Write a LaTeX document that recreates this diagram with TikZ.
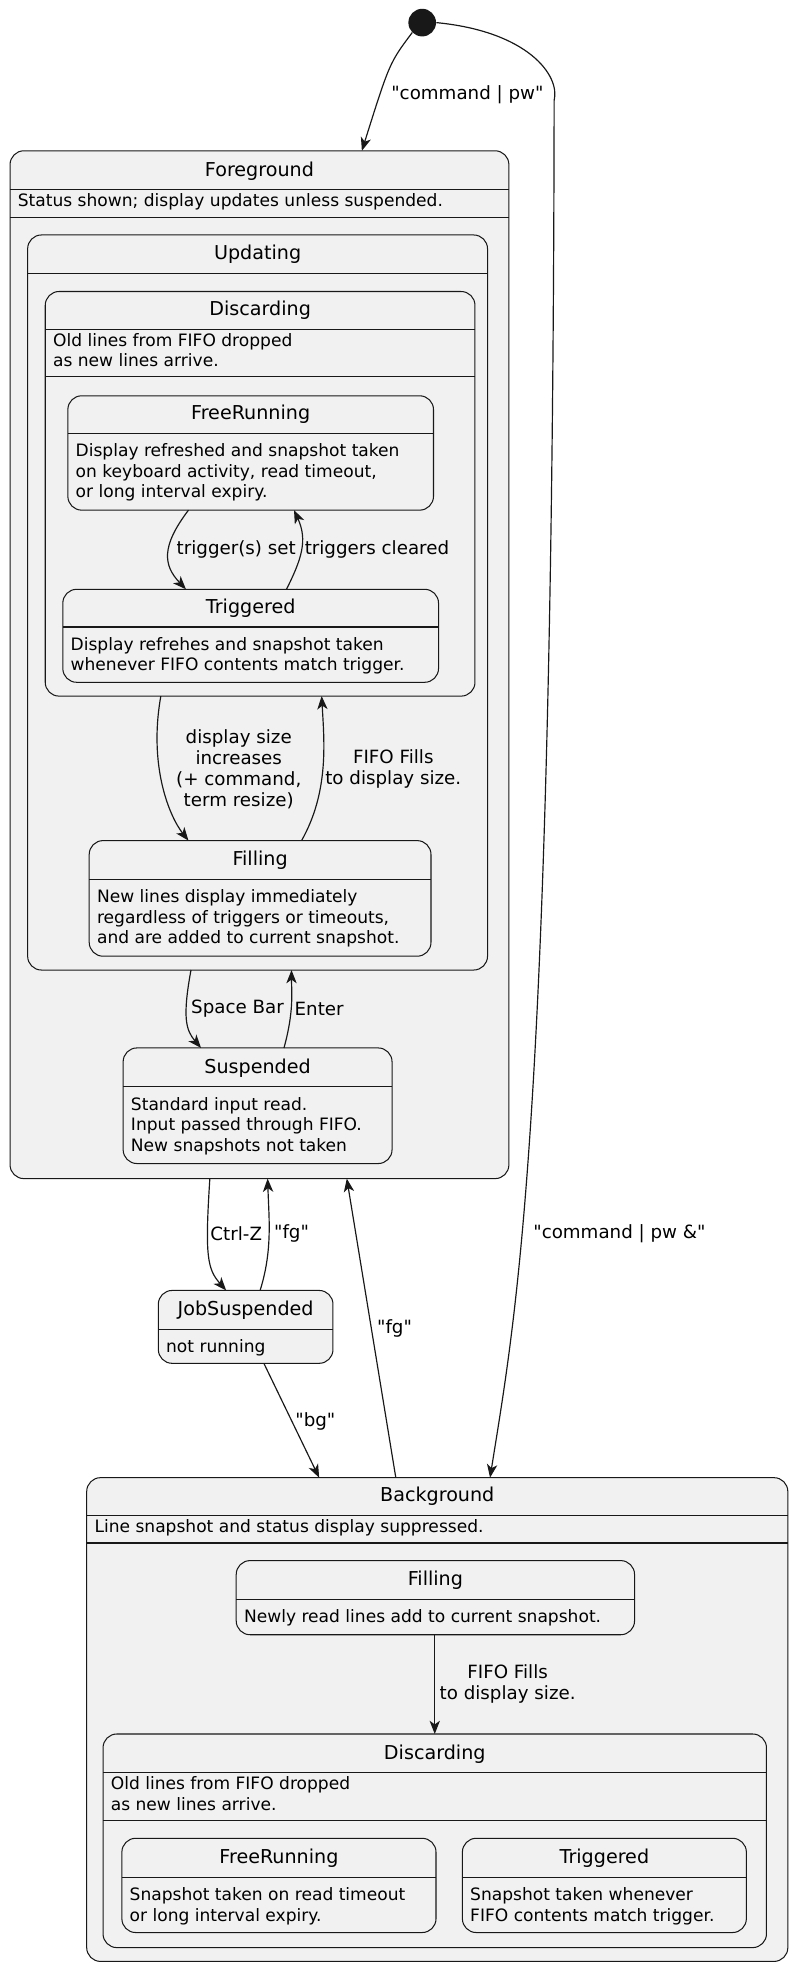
\documentclass[tikz,border=0pt]{standalone}
\usepackage{fontspec}
\setmainfont{DejaVu Sans}
\usetikzlibrary{arrows.meta,calc}
\definecolor{boxfill}{HTML}{F1F1F1}
\definecolor{boxline}{HTML}{181818}
\newcommand\qq[1]{\textquotedbl#1\textquotedbl}
% state box: name, x1, y1, x2, y2, title, title y, line y
\newcommand\umlstate[8]{%
  \node [ubox, minimum width = {(#4-#2)*0.03cm}, minimum height = {(#5-#3)*0.03cm}]
    (#1) at ({(#2+#4)/2}, {(#3+#5)/2}) {};
  \node [utitle] (#1t) at ({(#2+#4)/2}, #7) {#6};
  \draw [boxline, line width = 0.7pt] (#1.west |- 0,#8) -- (#1.east |- 0,#8);}
\begin{document}
\begin{tikzpicture}[x = 0.03cm, y = -0.03cm,
    ubox/.style = {draw = boxline, fill = boxfill, line width = 0.7pt, rounded corners = 0.33cm,
                   inner sep = 0pt, outer sep = 0pt},
    utitle/.style = {font = \fontsize{13}{15}\selectfont, inner sep = 0pt},
    udesc/.style = {font = \fontsize{11.6}{13.9}\selectfont, align = left, anchor = north west, inner sep = 0pt},
    ulabel/.style = {font = \fontsize{12.4}{14.2}\selectfont, align = center, inner sep = 0pt},
    trans/.style = {boxline, line width = 0.8pt, -{Stealth[length = 9pt, width = 7pt, inset = 2.5pt]}}]
  \useasboundingbox (0,0) rectangle (636,1575);
  \node [circle, fill = boxline, minimum size = 0.66cm, inner sep = 0pt] (init) at (336,18) {};

  % foreground
  \umlstate{fg}{8}{120}{405}{938}{Foreground}{136}{151}
  \draw [boxline, line width = 0.7pt] (fg.west |- 0,173) -- (fg.east |- 0,173);
  \node [udesc] (fgd) at (14,154) {Status shown; display updates unless suspended.};
  \umlstate{upd}{22}{187}{388}{772}{Updating}{202}{218}
  \umlstate{dis}{36}{232}{378}{554}{Discarding}{247}{262}
  \draw [boxline, line width = 0.7pt] (dis.west |- 0,300) -- (dis.east |- 0,300);
  \node [udesc] (disd) at (42,265) {Old lines from FIFO dropped\\as new lines arrive.};
  \umlstate{free}{54}{315}{345}{406}{FreeRunning}{330}{345}
  \node [udesc] (freed) at (60,353) {Display refreshed and snapshot taken\\on keyboard activity, read timeout,\\or long interval expiry.};
  \umlstate{trig}{50}{469}{349}{543}{Triggered}{484}{499}
  \node [udesc] (trigd) at (56,507) {Display refrehes and snapshot taken\\whenever FIFO contents match trigger.};
  \umlstate{fill}{71}{669}{343}{761}{Filling}{685}{700}
  \node [udesc] (filld) at (77,708) {New lines display immediately\\regardless of triggers or timeouts,\\and are added to current snapshot.};
  \umlstate{susp}{98}{834}{312}{926}{Suspended}{850}{865}
  \node [udesc] (suspd) at (104,873) {Standard input read.\\Input passed through FIFO.\\New snapshots not taken};

  \umlstate{job}{126}{1027}{265}{1085}{JobSuspended}{1043}{1058}
  \node [udesc] (jobd) at (132,1066) {not running};

  % background
  \umlstate{bg}{69}{1176}{627}{1561}{Background}{1191}{1206}
  \draw [boxline, line width = 0.7pt] (bg.west |- 0,1228) -- (bg.east |- 0,1228);
  \node [udesc] (bgd) at (75,1209) {Line snapshot and status display suppressed.};
  \umlstate{bfill}{188}{1242}{505}{1301}{Filling}{1258}{1273}
  \node [udesc] (bfilld) at (194,1281) {Newly read lines add to current snapshot.};
  \umlstate{bdis}{82}{1380}{610}{1550}{Discarding}{1396}{1411}
  \draw [boxline, line width = 0.7pt] (bdis.west |- 0,1449) -- (bdis.east |- 0,1449);
  \node [udesc] (bdisd) at (88,1414) {Old lines from FIFO dropped\\as new lines arrive.};
  \umlstate{bfree}{97}{1463}{347}{1538}{FreeRunning}{1479}{1494}
  \node [udesc] (bfreed) at (103,1502) {Snapshot taken on read timeout\\or long interval expiry.};
  \umlstate{btrig}{368}{1463}{594}{1538}{Triggered}{1479}{1494}
  \node [udesc] (btrigd) at (374,1502) {Snapshot taken whenever\\FIFO contents match trigger.};

  % transitions
  \draw [trans] (init.south west) .. controls (310,50) .. (fg.north -| 288,0);
  \node [ulabel] (l1) at (372,75) {\qq{command | pw}};
  \draw [trans] (init.east) .. controls (420,25) and (446,60) .. (441,80)
    .. controls (440,900) and (410,1050) .. (bg.north -| 390,0);
  \node [ulabel] (l2) at (493,982) {\qq{command | pw \&}};
  \draw [trans] (free.south -| 150,0) .. controls (128,435) and (130,450) .. (trig.north -| 148,0);
  \node [ulabel] (l3) at (188,437) {trigger(s) set};
  \draw [trans] (trig.north -| 228,0) .. controls (240,445) and (245,430) .. (free.south -| 234,0);
  \node [ulabel] (l4) at (300,437) {triggers cleared};
  \draw [trans] (dis.south -| 128,0) .. controls (118,610) and (135,650) .. (fill.north -| 150,0);
  \node [ulabel] (l5) at (190,612) {display size\\increases\\(+ command,\\term resize)};
  \draw [trans] (fill.north -| 240,0) .. controls (262,630) and (258,590) .. (dis.south -| 256,0);
  \node [ulabel] (l6) at (313,612) {FIFO Fills\\to display size.};
  \draw [trans] (upd.south -| 152,0) .. controls (145,810) and (148,820) .. (susp.north -| 160,0);
  \node [ulabel] (l7) at (189,803) {Space Bar};
  \draw [trans] (susp.north -| 226,0) .. controls (234,805) and (232,790) .. (upd.south -| 232,0);
  \node [ulabel] (l8) at (254,803) {Enter};
  \draw [trans] (fg.south -| 167,0) .. controls (163,1000) and (165,1010) .. (job.north -| 180,0);
  \node [ulabel] (l9) at (188,982) {Ctrl-Z};
  \draw [trans] (job.north -| 207,0) .. controls (217,995) and (214,970) .. (fg.south -| 213,0);
  \node [ulabel] (l10) at (232,982) {\qq{fg}};
  \draw [trans] (job.south -| 210,0) -- (bg.north -| 254,0);
  \node [ulabel] (l11) at (251,1131) {\qq{bg}};
  \draw [trans] (bg.north -| 315,0) -- (fg.south -| 276,0);
  \node [ulabel] (l12) at (314,1057) {\qq{fg}};
  \draw [trans] (bfill.south -| 346,0) -- (bdis.north -| 346,0);
  \node [ulabel] (l13) at (404,1340) {FIFO Fills\\to display size.};
\end{tikzpicture}
\end{document}
